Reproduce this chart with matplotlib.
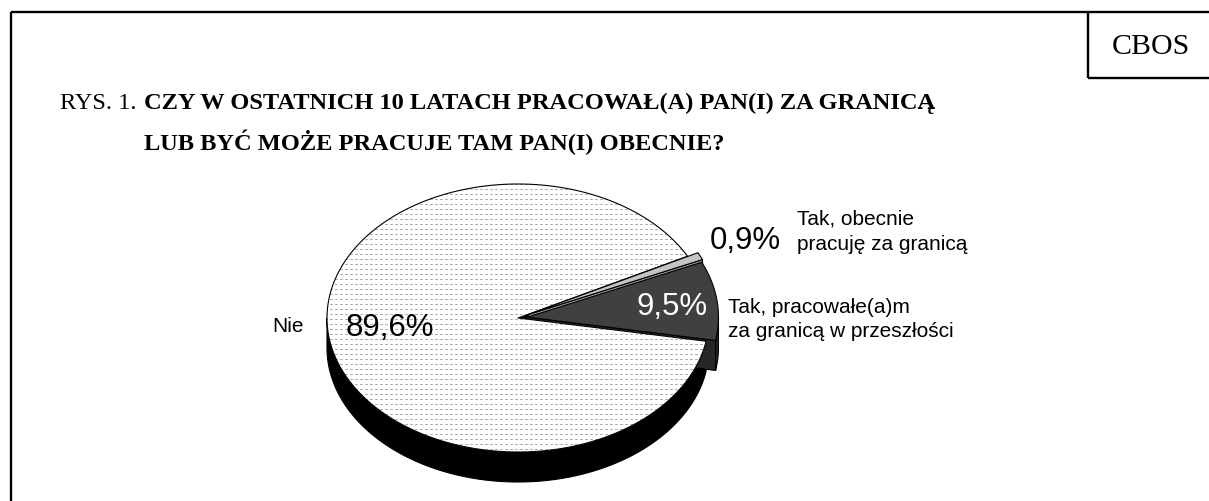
import numpy as np
import matplotlib
matplotlib.use("Agg")
import matplotlib.pyplot as plt
from matplotlib.patches import Polygon

# ---- data ----
categories = ["Tak, pracowałe(a)m\nza granicą w przeszłości",
              "Tak, obecnie\npracuję za granicą",
              "Nie"]
values = [9.5, 0.9, 89.6]
value_labels = ["9,5%", "0,9%", "89,6%"]
title_prefix = "RYS. 1."
title_lines = ["CZY W OSTATNICH 10 LATACH PRACOWAŁ(A) PAN(I) ZA GRANICĄ",
               "LUB BYĆ MOŻE PRACUJE TAM PAN(I) OBECNIE?"]
source = "CBOS"

W, H = 1209, 502
fig = plt.figure(figsize=(W / 100, H / 100), dpi=100)
ax = fig.add_axes([0, 0, 1, 1])
ax.set_xlim(0, W)
ax.set_ylim(H, 0)
ax.axis('off')

# ---- frame ----
lw_frame = 1.7
ax.plot([11, 11], [13, H], color='black', lw=lw_frame, solid_capstyle='butt')
ax.plot([11, W], [13, 13], color='black', lw=lw_frame, solid_capstyle='butt')
ax.plot([1088, 1088], [13, 79], color='black', lw=lw_frame, solid_capstyle='butt')
ax.plot([1088, W], [79, 79], color='black', lw=lw_frame, solid_capstyle='butt')
ax.text(1151, 47, source, family='Liberation Serif', fontsize=21.5,
        ha='center', va='center')

# ---- title ----
TF = 17.6
ax.text(60, 109, title_prefix, family='Liberation Serif', fontsize=TF,
        ha='left', va='baseline')
ax.text(144, 109, title_lines[0], family='Liberation Serif', fontsize=TF,
        fontweight='bold', ha='left', va='baseline')
ax.text(144, 150, title_lines[1], family='Liberation Serif', fontsize=TF,
        fontweight='bold', ha='left', va='baseline')

# ---- 3D pie geometry ----
cx, cy, a, b, depth = 518, 319, 191, 134, 30
start = -10.0
total = float(sum(values))
bounds = start + np.cumsum([0.0] + values) / total * 360.0
explode = [0.05, 0.06, 0.0]
top_colors = ['#404040', '#c4c4c4', 'white']
wall_colors = ['#262626', '#9c9c9c', 'black']
EC = 'black'
ELW = 0.8


def pt(theta, r, z, off):
    t = np.deg2rad(theta)
    return (cx + off[0] + a * r * np.cos(t), cy + off[1] - b * r * np.sin(t) + z * depth)


def arc(t0, t1, z, off, n=200):
    ts = np.linspace(t0, t1, n)
    return [pt(t, 1.0, z, off) for t in ts]


slices = []
for i in range(len(values)):
    t0, t1 = bounds[i], bounds[i + 1]
    mid = np.deg2rad((t0 + t1) / 2)
    off = (explode[i] * a * np.cos(mid), -explode[i] * b * np.sin(mid))
    slices.append((t0, t1, off))

z = [1]


def add(poly_pts, fc, ec=EC, lw=ELW):
    p = Polygon(poly_pts, closed=True, facecolor=fc, edgecolor=ec, lw=lw,
                joinstyle='round', zorder=z[0])
    z[0] += 1
    ax.add_patch(p)
    return p


def face(theta, off):
    return [pt(theta, 0, 0, off), pt(theta, 1, 0, off),
            pt(theta, 1, 1, off), pt(theta, 0, 1, off)]


def wall(t0, t1, off):
    segs = []
    for k in (-1, 0, 1):
        lo, hi = max(t0, 180 + 360 * k), min(t1, 360 + 360 * k)
        if hi > lo:
            segs.append(arc(lo, hi, 0, off) + arc(hi, lo, 1, off))
    return segs


# Nie (index 2) start face and wall
t0, t1, off = slices[2]
add(face(t0, off), 'black')
for s in wall(t0, t1, off):
    add(s, wall_colors[2])

# light slice start face
t0, t1, off = slices[1]
add(face(t0, off), wall_colors[1])

# dark slice wall and start face
t0, t1, off = slices[0]
for s in wall(t0, t1, off):
    add(s, wall_colors[0])
add(face(t0, off), wall_colors[0])

# Nie top with dotted pattern
t0, t1, off = slices[2]
top_pts = [pt(0, 0, 0, off)] + arc(t0, t1, 0, off, 400)
ptop = add(top_pts, 'white', ec='none', lw=0)
yy, xx = np.mgrid[0:H, 0:W]
mask = (yy % 5 == 0) & (xx % 5 < 3)
img = np.ones((H, W, 3))
img[mask] = 0.70
im = ax.imshow(img, extent=(0, W, H, 0), origin='upper', interpolation='nearest',
               aspect='auto', zorder=z[0])
z[0] += 1
im.set_clip_path(ptop)
add(top_pts, 'none')

# light and dark tops
for i in (1, 0):
    t0, t1, off = slices[i]
    add([pt(0, 0, 0, off)] + arc(t0, t1, 0, off), top_colors[i])

ax.set_xlim(0, W)
ax.set_ylim(H, 0)

# ---- labels ----
LF = 'Liberation Sans'
SF = 15
zt = z[0] + 5
ax.text(304, 332, categories[2], family=LF, fontsize=SF, ha='right', va='baseline', zorder=zt)
ax.text(346, 336, value_labels[2], family=LF, fontsize=22.5, ha='left', va='baseline', zorder=zt)
ax.text(637, 315, value_labels[0], family=LF, fontsize=22.5, ha='left', va='baseline',
        color='white', zorder=zt)
ax.text(710, 249, value_labels[1], family=LF, fontsize=22.5, ha='left', va='baseline', zorder=zt)
l1 = categories[1].split('\n')
ax.text(797, 225, l1[0], family=LF, fontsize=SF, ha='left', va='baseline', zorder=zt)
ax.text(797, 250, l1[1], family=LF, fontsize=SF, ha='left', va='baseline', zorder=zt)
l0 = categories[0].split('\n')
ax.text(728, 313, l0[0], family=LF, fontsize=SF, ha='left', va='baseline', zorder=zt)
ax.text(728, 337, l0[1], family=LF, fontsize=SF, ha='left', va='baseline', zorder=zt)

fig.savefig('out.png', dpi=100, facecolor='white')
